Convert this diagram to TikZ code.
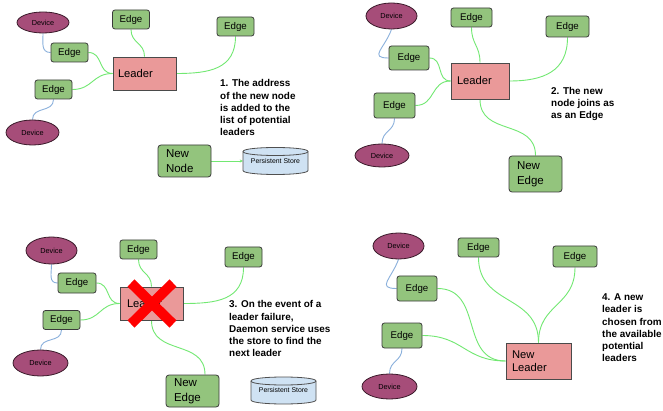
\documentclass[tikz,border=0pt]{standalone}
\usepackage{fontspec}
\setmainfont{Liberation Sans}
\usetikzlibrary{shapes.geometric,arrows.meta}
\pgfdeclarelayer{canvasbg}
\pgfdeclarelayer{links}
\pgfsetlayers{canvasbg,links,main}
\definecolor{edgefill}{HTML}{93C47D}
\definecolor{edgeline}{HTML}{3A3A3A}
\definecolor{leaderfill}{HTML}{EA9999}
\definecolor{leaderline}{HTML}{4A4A4A}
\definecolor{devfill}{HTML}{A64D79}
\definecolor{devline}{HTML}{3A1A2A}
\definecolor{storefill}{HTML}{CFE2F3}
\definecolor{storeline}{HTML}{505050}
\definecolor{glink}{HTML}{72E872}
\definecolor{blink}{HTML}{8AB0DC}
\newcommand\storeshape[3]{%
 \pgfmathsetmacro\sxl{#2-32.5}\pgfmathsetmacro\sxr{#2+32.5}%
 \pgfmathsetmacro\syt{#3-13.5+4}\pgfmathsetmacro\syb{#3+13.5-4}%
 \pgfmathsetmacro\sytc{\syt-5.33}\pgfmathsetmacro\sytd{\syt+5.33}\pgfmathsetmacro\sybd{\syb+5.33}%
 \draw[storebody] (\sxl,\syt) -- (\sxl,\syb) .. controls (\sxl,\sybd) and (\sxr,\sybd) .. (\sxr,\syb) -- (\sxr,\syt) .. controls (\sxr,\sytc) and (\sxl,\sytc) .. (\sxl,\syt) -- cycle;
 \draw[storebody, fill=none] (\sxl,\syt) .. controls (\sxl,\sytd) and (\sxr,\sytd) .. (\sxr,\syt);
 \node[storetext] (#1) at (#2,#3) {Persistent Store};
}
\begin{document}
\begin{tikzpicture}[x=1pt,y=-1pt,
  edgebox/.style={draw=edgeline, fill=edgefill, rounded corners=2.5pt, line width=0.8pt,
     minimum width=37pt, minimum height=19pt, inner sep=0pt, font=\fontsize{9.7}{11}\selectfont},
  leaderbox/.style={draw=leaderline, fill=leaderfill, line width=0.8pt, inner sep=0pt,
     align=left, font=\fontsize{11.2}{13.5}\selectfont},
  bigbox/.style={draw=edgeline, fill=edgefill, rounded corners=3pt, line width=0.8pt, inner sep=0pt,
     align=left, font=\fontsize{11.5}{14.5}\selectfont},
  device/.style={ellipse, draw=devline, fill=devfill, line width=0.8pt, inner sep=0pt,
     font=\fontsize{7.3}{8}\selectfont},
  storebody/.style={draw=storeline, fill=storefill, line width=0.8pt},
  storetext/.style={minimum width=65pt, minimum height=27pt, inner sep=0pt, font=\fontsize{6.9}{8}\selectfont},
  note/.style={anchor=north west, inner sep=0pt, align=left, font=\bfseries\fontsize{9.9}{12.25}\selectfont},
  gline/.style={draw=glink, line width=0.9pt, looseness=1.2},
  bline/.style={draw=blink, line width=0.9pt, looseness=1.2},
  crossline/.style={draw=red, line width=10pt}
]
\begin{pgfonlayer}{canvasbg}
\useasboundingbox[fill=white] (0,0) rectangle (663,411);
\end{pgfonlayer}

% ---------------- Panel 1 ----------------
\node[device, minimum width=52pt, minimum height=21pt] (a-d1) at (43,22.5) {Device};
\node[edgebox] (a-e1) at (69.5,52.5) {Edge};
\node[edgebox] (a-et) at (131,19.5) {Edge};
\node[edgebox] (a-er) at (235.5,26.5) {Edge};
\node[leaderbox, minimum height=33pt, inner xsep=5pt, text width=53pt] (a-l) at (144.5,73.5) {Leader};
\node[edgebox] (a-e2) at (53.5,89.5) {Edge};
\node[device, minimum width=53pt, minimum height=25pt] (a-d2) at (32.5,132.5) {Device};
\node[bigbox, minimum height=32pt, inner xsep=8pt, text width=37pt] (a-nn) at (184.5,161) {New\\Node};
\storeshape{a-s}{275.5}{161}
\node[note] (a-t) at (220,79.5) {1. The address\\of the new node\\is added to the\\list of potential\\leaders};
\begin{pgfonlayer}{links}
\draw[gline] (a-e1.east) to[out=0,in=180] (a-l.west);
\draw[gline] (a-e2.east) to[out=0,in=180] (a-l.west);
\draw[gline] (a-et.south) to[out=-90,in=90] (a-l.north);
\draw[gline] (a-l.east) to[out=0,in=-90] (a-er.south);
\draw[bline] (a-d1.south) to[out=-90,in=180] (a-e1.west);
\draw[bline] (a-e2.south) to[out=-90,in=90] (a-d2.north);
\draw[gline, -{Stealth[length=3pt,width=3pt]}] (a-nn.east) -- (a-s.west);
\end{pgfonlayer}

% ---------------- Panel 2 ----------------
\node[device, minimum width=51pt, minimum height=26pt] (b-d1) at (391.5,16) {Device};
\node[edgebox, minimum width=40pt, minimum height=24pt] (b-e1) at (409,58) {Edge};
\node[edgebox, minimum width=41pt] (b-et) at (471.5,17.5) {Edge};
\node[edgebox, minimum width=43pt, minimum height=21pt] (b-er) at (567.5,26.5) {Edge};
\node[leaderbox, minimum height=36pt, inner xsep=6pt, text width=46pt] (b-l) at (480,81) {Leader};
\node[edgebox, minimum width=41pt, minimum height=25pt] (b-e2) at (394.5,105.5) {Edge};
\node[device, minimum width=54pt, minimum height=23pt] (b-d2) at (382,155.5) {Device};
\node[bigbox, minimum height=36pt, inner xsep=8pt, text width=37pt] (b-ne) at (535.5,174) {New\\Edge};
\node[note] (b-t) at (551,87) {2. The new\\node joins as\\as an Edge};
\begin{pgfonlayer}{links}
\draw[bline] (b-d1.south) to[out=-110,in=180,looseness=1.8] (b-e1.west);
\draw[bline] (b-e2.south) to[out=-90,in=90] (b-d2.north);
\draw[gline] (b-et.south) to[out=-90,in=90] (b-l.north);
\draw[gline] (b-l.east) to[out=0,in=-90] (b-er.south);
\draw[gline] (b-e1.east) to[out=0,in=180] (b-l.west);
\draw[gline] (b-e2.east) to[out=0,in=180] (b-l.west);
\draw[gline] (b-l.south) to[out=-90,in=90] (b-ne.north);
\end{pgfonlayer}

% ---------------- Panel 3 ----------------
\node[device, minimum width=51pt, minimum height=27pt] (c-d1) at (51.5,250.5) {Device};
\node[edgebox, minimum width=38pt, minimum height=20pt] (c-e1) at (77,283) {Edge};
\node[edgebox] (c-et) at (138.5,249.5) {Edge};
\node[edgebox, minimum height=20pt] (c-er) at (243.5,257) {Edge};
\node[leaderbox, minimum height=33pt, inner xsep=7pt, text width=49pt] (c-l) at (151.5,303.5) {Leader};
\node[edgebox] (c-e2) at (61.5,320) {Edge};
\node[device, minimum width=55pt, minimum height=26pt] (c-d2) at (40.5,363) {Device};
\node[bigbox, minimum height=32pt, inner xsep=8pt, text width=37pt] (c-ne) at (192.5,391) {New\\Edge};
\storeshape{c-s}{283.5}{390.5}
\node[note] (c-t) at (229,300.5) {3. On the event of a\\leader failure,\\Daemon service uses\\the store to find the\\next leader};
\begin{pgfonlayer}{links}
\draw[bline] (c-d1.south) to[out=-90,in=180] (c-e1.west);
\draw[bline] (c-e2.south) to[out=-90,in=90] (c-d2.north);
\draw[gline] (c-et.south) to[out=-90,in=90] (c-l.north);
\draw[gline] (c-l.east) to[out=0,in=-90] (c-er.south);
\draw[gline] (c-e1.east) to[out=0,in=180] (c-l.west);
\draw[gline] (c-e2.east) to[out=0,in=180] (c-l.west);
\draw[gline] (c-l.south) to[out=-90,in=90] ([xshift=12.5pt]c-ne.north);
\end{pgfonlayer}
\draw[crossline] (131,283) -- (173,324);
\draw[crossline] (173,283) -- (131,324);

% ---------------- Panel 4 ----------------
\node[device, minimum width=51pt, minimum height=26pt] (d-d1) at (398.5,246) {Device};
\node[edgebox, minimum width=40pt, minimum height=25pt] (d-e1) at (417,288.5) {Edge};
\node[edgebox, minimum width=41pt] (d-et) at (478.5,247.5) {Edge};
\node[edgebox, minimum width=44pt, minimum height=21pt] (d-er) at (575,256.5) {Edge};
\node[edgebox, minimum width=40pt, minimum height=25pt] (d-e2) at (402,335.5) {Edge};
\node[device, minimum width=55pt, minimum height=25pt] (d-d2) at (389.5,386.5) {Device};
\node[leaderbox, minimum height=36pt, inner xsep=6pt, text width=53pt] (d-nl) at (538.5,361) {New\\Leader};
\node[note] (d-t) at (602,293.5) {4. A new\\leader is\\chosen from\\the available\\potential\\leaders};
\begin{pgfonlayer}{links}
\draw[bline] (d-d1.south) to[out=-110,in=180,looseness=1.8] (d-e1.west);
\draw[bline] (d-e2.south) to[out=-90,in=90] (d-d2.north);
\draw[gline] (d-et.south) to[out=-90,in=90] (d-nl.north);
\draw[gline] (d-er.south) to[out=-90,in=90] (d-nl.north);
\draw[gline] (d-e1.east) to[out=0,in=180] (d-nl.west);
\draw[gline] (d-e2.east) to[out=0,in=180] (d-nl.west);
\end{pgfonlayer}
\end{tikzpicture}
\end{document}
